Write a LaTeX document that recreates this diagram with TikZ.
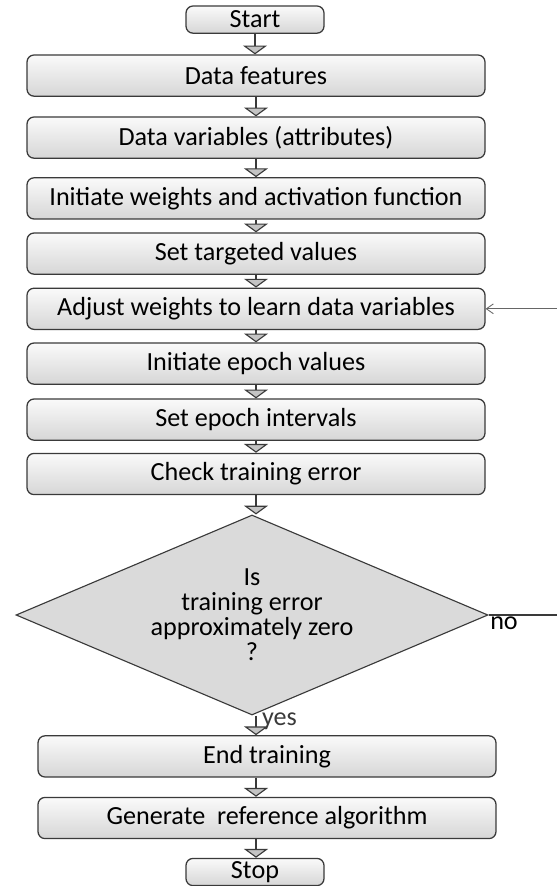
\documentclass[tikz,border=0pt]{standalone}
\usepackage{fontspec}
\setmainfont{Carlito}
\usepackage{tikz}
\usetikzlibrary{arrows.meta,positioning,calc,shapes.geometric}
\definecolor{nndark}{HTML}{3A3A3A}
\definecolor{nnfill}{HTML}{DADADA}
\definecolor{nntip}{HTML}{C4C4C4}

\begin{document}
\begin{tikzpicture}[
  box/.style={draw=nndark,rounded corners=5pt,minimum width=11.45cm,minimum height=1.03cm,align=center,font=\fontsize{18.6}{20}\selectfont,line width=0.9pt,top color=gray!4,bottom color=gray!32},
  endbox/.style={box,minimum width=3.45cm,minimum height=0.68cm,inner sep=1pt},
  decide/.style={diamond,shape aspect=2.36,draw=nndark,fill=nnfill,minimum width=11.8cm,minimum height=5cm,inner sep=0pt,align=center,font=\fontsize{18.6}{17.8}\selectfont,line width=0.8pt},
  arr/.style={-{Triangle[width=0.6cm,length=0.22cm,fill=nntip]},line width=0.8pt,nndark},
  back/.style={-{Straight Barb[length=5pt,width=7pt]},line width=0.6pt,gray!80!black}
]
\useasboundingbox (0,0) rectangle (13.925,-22.15);

% Main column
\node[endbox] (start) at (6.375,-0.49) {Start};
\node[box] (feat) at (6.4,-1.89) {Data features};
\node[box] (vars) at (6.4,-3.44) {Data variables (attributes)};
\node[box] (initw) at (6.4,-4.96) {Initiate weights and activation function};
\node[box] (target) at (6.4,-6.34) {Set targeted values};
\node[box] (adjust) at (6.4,-7.72) {Adjust weights to learn data variables};
\node[box] (initep) at (6.4,-9.09) {Initiate epoch values};
\node[box] (interval) at (6.4,-10.49) {Set epoch intervals};
\node[box] (check) at (6.4,-11.85) {Check training error};

% Decision
\node[decide] (zero) at (6.3,-15.375) {Is\\training error\\approximately zero\\?};

% Ending
\node[box] (endt) at (6.675,-18.91) {End training};
\node[box] (gen) at (6.675,-20.45) {Generate~ reference algorithm};
\node[endbox] (stop) at (6.375,-21.8) {Stop};

\coordinate (noend) at (13.925,-15.375);
\coordinate (backin) at (13.925,-7.72);

\draw[arr] (start.south) -- (start.south |- feat.north);
\draw[arr] (feat.south) -- (vars.north);
\draw[arr] (vars.south) -- (initw.north);
\draw[arr] (initw.south) -- (target.north);
\draw[arr] (target.south) -- (adjust.north);
\draw[arr] (adjust.south) -- (initep.north);
\draw[arr] (initep.south) -- (interval.north);
\draw[arr] (interval.south) -- (check.north);
\draw[arr] (check.south) -- (check.south |- zero.north);
\draw[arr] (check.south |- zero.south) -- (check.south |- endt.north) node[pos=0.3,anchor=west,inner xsep=4pt,inner ysep=1pt,font=\fontsize{18.6}{20}\selectfont] {yes};
\draw[arr] (check.south |- endt.south) -- (check.south |- gen.north);
\draw[arr] (check.south |- gen.south) -- (check.south |- stop.north);

% Loop back
\draw[line width=0.8pt,nndark] (zero.east) -- (noend);
\node[anchor=north west,inner sep=1pt,font=\fontsize{18.6}{20}\selectfont] (nolab) at (zero.east) {no};
\draw[back] (backin) -- (adjust.east);
\end{tikzpicture}
\end{document}
